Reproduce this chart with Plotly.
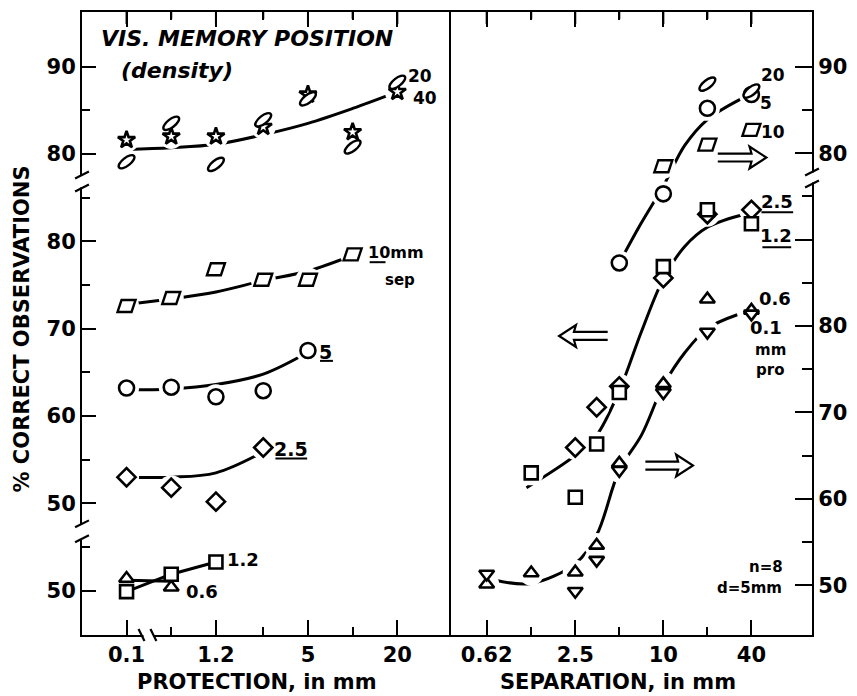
import numpy as np
import plotly.graph_objects as go

# ---------------- data ----------------
# Left panel: x = protection (mm)
prot = [0.1, 0.6, 1.2, 2.5, 5, 10, 20]
prot_tick_labels = ["0.1", "", "1.2", "", "5", "", "20"]

# density group (upper segment of left axis)
dens_sep40 = [81.6, 82.0, 82.0, 83.1, 86.8, 82.5, 87.1]   # stars
dens_sep20 = [79.1, 83.5, 78.8, 83.9, 86.3, 80.8, 88.2]   # ellipses
dens_curve = [80.5, 80.7, 81.1, 82.2, 83.5, 85.2, 87.1]

# position group (middle segment of left axis)
pos10_x = [0.1, 0.6, 1.2, 2.5, 5, 10]
pos10 = [72.6, 73.5, 76.8, 75.6, 75.6, 78.5]
pos10_curve = [72.8, 73.4, 74.2, 75.5, 76.6, 78.4]
pos5_x = [0.1, 0.6, 1.2, 2.5, 5]
pos5 = [63.2, 63.3, 62.2, 62.9, 67.5]
pos5_curve = [63.0, 63.1, 63.6, 64.8, 67.3]
pos25_x = [0.1, 0.6, 1.2, 2.5]
pos25 = [53.0, 51.8, 50.2, 56.4]
pos25_curve = [53.0, 53.0, 53.5, 55.9]
# lower segment of left axis
pos06_x = [0.1, 0.6]
pos06 = [51.4, 50.4]
pos06_curve = [51.2, 51.1]
pos12_x = [0.1, 0.6, 1.2]
pos12 = [49.9, 51.9, 53.3]

# Right panel: x = separation (mm)
sep_ticks = [0.62, 1.25, 2.5, 5, 10, 20, 40]
sep_tick_labels = ["0.62", "", "2.5", "", "10", "", "40"]
# upper group (right axis, upper segment)
pro5_x = [5, 10, 20, 40]
pro5 = [67.3, 75.3, 85.2, 86.8]
pro10_x = [10, 20, 40]
pro10 = [78.5, 81.0, 82.7]
pro20_x = [20, 40]
pro20 = [88.0, 87.2]
upper_curve_x = [5, 7, 10, 14, 20, 34]
upper_curve = [67.3, 71.8, 76.2, 80.9, 83.9, 86.3]
# middle group (read on the left axis)
pro25_x = [2.5, 3.5, 5, 10, 20, 40]
pro25 = [56.4, 61.0, 63.4, 75.8, 83.1, 83.6]
pro12_x = [1.25, 2.5, 3.5, 5, 10, 20, 40]
pro12 = [53.5, 50.7, 56.8, 62.7, 77.1, 83.6, 82.0]
middle_curve_x = [1.16, 2.5, 3.5, 5, 7.1, 10, 14, 20, 38]
middle_curve = [51.8, 55.5, 57.8, 62.9, 69.7, 75.7, 79.4, 81.6, 83.2]
# lower group (right axis, lower segment)
pro06_x = [0.62, 1.25, 2.5, 3.5, 5, 10, 20, 40]
pro06 = [50.1, 51.4, 51.5, 54.6, 64.1, 73.3, 83.1, 81.8]
pro01_x = [0.62, 2.5, 3.5, 5, 10, 20, 40]
pro01 = [51.3, 49.3, 52.9, 63.3, 72.3, 79.3, 81.4]
lower_curve_x = [0.70, 1.25, 2.5, 3.5, 5, 7.1, 10, 14, 20, 32]
lower_curve = [50.6, 50.2, 52.5, 55.8, 63.3, 67.4, 73.1, 76.9, 79.7, 81.3]

# axis segments (broken axes): offset added to reach the continuous drawing scale
LEFT_OFF = {"upper": 10, "middle": 0, "lower": -10}
LEFT_TICKS = {"upper": [80, 85, 90], "middle": [50, 55, 60, 65, 70, 75, 80, 85], "lower": [50, 55]}
RIGHT_OFF = {"upper": 20, "lower": 0}
RIGHT_TICKS = {"upper": [80, 85, 90], "lower": [50, 55, 60, 65, 70, 75, 80, 85, 90, 95]}
RIGHT_UNLABELLED_MAJOR = {("lower", 90)}
PROT_BREAK = 0.3      # protections below this are drawn behind the x-axis break
PROT_BREAK_FACTOR = 3


def lv(vals, seg):
    return [v + LEFT_OFF[seg] for v in vals]


def rv(vals, seg):
    return [v + RIGHT_OFF[seg] for v in vals]


def ppos(xs):
    return [x * PROT_BREAK_FACTOR if x < PROT_BREAK else x for x in xs]


# ---------------- geometry (pixels) ----------------
W, H = 857, 696
L, R, T, B = 82, 818, 10, 635
XDIV = 452


def px(x):
    return (x - L) / (R - L)


def py(y):
    return (B - y) / (B - T)


FONT = "DejaVu Sans"
fig = go.Figure()

curves, halos, marks = [], [], []


def curve(x, y, xa, ya, shape="spline"):
    curves.append(go.Scatter(x=x, y=y, mode="lines", xaxis=xa, yaxis=ya,
                             line=dict(color="black", width=3, shape=shape, smoothing=1.0),
                             hoverinfo="skip", showlegend=False))


def points(x, y, xa, ya, symbol=None, size=14):
    halos.append(go.Scatter(x=x, y=y, mode="markers", xaxis=xa, yaxis=ya,
                            marker=dict(symbol="circle", size=25, color="white", line=dict(width=0)),
                            hoverinfo="skip", showlegend=False))
    if symbol:
        marks.append(go.Scatter(x=x, y=y, mode="markers", xaxis=xa, yaxis=ya,
                                marker=dict(symbol=symbol, size=size, color="white",
                                            line=dict(color="black", width=2.6)),
                                hoverinfo="skip", showlegend=False))


# left panel
curve(ppos(prot), lv(dens_curve, "upper"), "x", "y")
points(ppos(prot), lv(dens_sep40, "upper"), "x", "y", "star", 13)
points(ppos(prot), lv(dens_sep20, "upper"), "x", "y")
curve(ppos(pos10_x), lv(pos10_curve, "middle"), "x", "y")
points(ppos(pos10_x), lv(pos10, "middle"), "x", "y")
curve(ppos(pos5_x), lv(pos5_curve, "middle"), "x", "y")
points(ppos(pos5_x), lv(pos5, "middle"), "x", "y", "circle", 15)
curve(ppos(pos25_x), lv(pos25_curve, "middle"), "x", "y")
points(ppos(pos25_x), lv(pos25, "middle"), "x", "y", "diamond", 14)
curve(ppos(pos06_x), lv(pos06_curve, "lower"), "x", "y", "linear")
curve(ppos(pos12_x), lv(pos12, "lower"), "x", "y", "linear")
marks.append(go.Scatter(x=ppos(pos06_x), y=lv(pos06, "lower"), mode="markers", xaxis="x", yaxis="y",
                        marker=dict(symbol="triangle-up", size=13, color="white", line=dict(color="black", width=2.6)),
                        hoverinfo="skip", showlegend=False))
marks.append(go.Scatter(x=ppos(pos12_x), y=lv(pos12, "lower"), mode="markers", xaxis="x", yaxis="y",
                        marker=dict(symbol="square", size=13, color="white", line=dict(color="black", width=2.6)),
                        hoverinfo="skip", showlegend=False))

# right panel
curve(upper_curve_x, rv(upper_curve, "upper"), "x2", "y2")
points(pro5_x, rv(pro5, "upper"), "x2", "y2", "circle", 15)
points(pro10_x, rv(pro10, "upper"), "x2", "y2")
points(pro20_x, rv(pro20, "upper"), "x2", "y2")
curve(lower_curve_x, rv(lower_curve, "lower"), "x2", "y2")
points(pro06_x, rv(pro06, "lower"), "x2", "y2", "triangle-up", 13)
points(pro01_x, rv(pro01, "lower"), "x2", "y2", "triangle-down", 13)
curve(middle_curve_x, lv(middle_curve, "middle"), "x2", "y3")
points(pro25_x, lv(pro25, "middle"), "x2", "y3", "diamond", 14)
points(pro12_x, lv(pro12, "middle"), "x2", "y3", "square", 13)

for tr in curves + halos + marks:
    fig.add_trace(tr)


# custom symbols drawn as pixel-sized shapes anchored at data points
def ellipse_path(a=9.5, b=4.0, ang=38):
    k = 0.5523
    ctrl = [(1, 0), (1, k), (k, 1), (0, 1), (-k, 1), (-1, k), (-1, 0), (-1, -k), (-k, -1), (0, -1),
            (k, -1), (1, -k), (1, 0)]
    t = np.radians(ang)
    pts = [(a * x * np.cos(t) - b * y * np.sin(t), a * x * np.sin(t) + b * y * np.cos(t)) for x, y in ctrl]
    s = f"M{pts[0][0]:.2f},{pts[0][1]:.2f}"
    for i in range(1, 13, 3):
        s += " C" + " ".join(f"{p[0]:.2f},{p[1]:.2f}" for p in pts[i:i + 3])
    return s + " Z"


PARA = "M-9,-6 L5,-6 L9,6 L-5,6 Z"
ELL = ellipse_path()


def sym_shapes(xs, ys, xref, yref, path):
    for x, y in zip(xs, ys):
        fig.add_shape(type="path", xref=xref, yref=yref, xsizemode="pixel", ysizemode="pixel",
                      xanchor=x, yanchor=y, path=path, fillcolor="white",
                      line=dict(color="black", width=2.4), layer="above")


sym_shapes(ppos(prot), lv(dens_sep20, "upper"), "x", "y", ELL)
sym_shapes(ppos(pos10_x), lv(pos10, "middle"), "x", "y", PARA)
sym_shapes(pro20_x, rv(pro20, "upper"), "x2", "y2", ELL)
sym_shapes(pro10_x, rv(pro10, "upper"), "x2", "y2", PARA)

# ---------------- axes ----------------
def left_ticks():
    major, text, minor = [], [], []
    for seg, vals in LEFT_TICKS.items():
        for v in vals:
            if v % 10 == 0:
                major.append(v + LEFT_OFF[seg]); text.append(str(v))
            else:
                minor.append(v + LEFT_OFF[seg])
    return major, text, minor


def right_ticks():
    major, text, minor = [], [], []
    for seg, vals in RIGHT_TICKS.items():
        for v in vals:
            if (seg, v) in RIGHT_UNLABELLED_MAJOR:
                major.append(v + RIGHT_OFF[seg]); text.append("")
            elif v % 10 == 0:
                major.append(v + RIGHT_OFF[seg]); text.append(str(v))
            else:
                minor.append(v + RIGHT_OFF[seg])
    return major, text, minor


tickfont = dict(family=FONT, size=21, color="black", weight="bold")
lmaj, ltxt, lmin = left_ticks()
rmaj, rtxt, rmin = right_ticks()
pmaj = [p for p, t in zip(ppos(prot), prot_tick_labels) if t]
pmin = [p for p, t in zip(ppos(prot), prot_tick_labels) if not t]
smaj = [s for s, t in zip(sep_ticks, sep_tick_labels) if t]
smin = [s for s, t in zip(sep_ticks, sep_tick_labels) if not t]

common_x = dict(type="log", showline=True, linecolor="black", linewidth=2, mirror="ticks",
                ticks="inside", ticklen=15, tickwidth=2, tickcolor="black", showgrid=False,
                zeroline=False, tickfont=tickfont, tickmode="array", ticklabelstandoff=0)
fig.update_layout(
    xaxis=dict(common_x, domain=[0, px(XDIV)], range=[-0.823, 1.649], anchor="y",
               tickvals=pmaj, ticktext=[t for t in prot_tick_labels if t],
               minor=dict(tickmode="array", tickvals=pmin, ticks="inside", ticklen=8,
                          tickwidth=2, tickcolor="black", showgrid=False)),
    xaxis2=dict(common_x, domain=[px(XDIV), 1], range=[-0.4652, 2.0161], anchor="y2",
                tickvals=smaj, ticktext=[t for t in sep_tick_labels if t],
                minor=dict(tickmode="array", tickvals=smin, ticks="inside", ticklen=8,
                           tickwidth=2, tickcolor="black", showgrid=False)),
    yaxis=dict(domain=[0, 1], range=[34.94, 106.24], anchor="x", showline=True, linecolor="black",
               linewidth=2, mirror=True, ticks="inside", ticklen=14, tickwidth=2, tickcolor="black",
               showgrid=False, zeroline=False, tickfont=tickfont, tickmode="array",
               tickvals=lmaj, ticktext=ltxt,
               minor=dict(tickmode="array", tickvals=lmin, ticks="inside", ticklen=8,
                          tickwidth=2, tickcolor="black", showgrid=False)),
    yaxis2=dict(domain=[0, 1], range=[44.23, 116.35], anchor="x2", side="right", showline=True,
                linecolor="black", linewidth=2, ticks="inside", ticklen=17, tickwidth=2,
                tickcolor="black", showgrid=False, zeroline=False, tickfont=tickfont,
                tickmode="array", tickvals=rmaj, ticktext=rtxt,
                minor=dict(tickmode="array", tickvals=rmin, ticks="inside", ticklen=10,
                           tickwidth=2, tickcolor="black", showgrid=False)),
    yaxis3=dict(domain=[0, 1], range=[34.94, 106.24], anchor="x2", overlaying="y2", visible=False),
    width=W, height=H, autosize=False,
    margin=dict(l=L, r=W - R, t=T, b=H - B, pad=0),
    paper_bgcolor="white", plot_bgcolor="rgba(0,0,0,0)",
    showlegend=False,
)

# tick marks along the top edge of both panels (same positions as the bottom ticks)
for xref, vals, labels in (("x", ppos(prot), prot_tick_labels), ("x2", sep_ticks, sep_tick_labels)):
    for v, t in zip(vals, labels):
        ln = 12 if t else 7
        fig.add_shape(type="line", xref=xref, yref="paper", x0=v, x1=v, y0=1, y1=1 - ln / (B - T),
                      line=dict(color="black", width=2), layer="above")


# ---------------- decorations: breaks, arrows, underlines ----------------
def line_px(x0, y0, x1, y1, w=2.2, color="black"):
    fig.add_shape(type="line", xref="paper", yref="paper", x0=px(x0), y0=py(y0), x1=px(x1), y1=py(y1),
                  line=dict(color=color, width=w), layer="above")


def rect_px(x0, y0, x1, y1):
    fig.add_shape(type="rect", xref="paper", yref="paper", x0=px(x0), y0=py(y0), x1=px(x1), y1=py(y1),
                  fillcolor="white", line=dict(width=0), layer="above")


# axis breaks
rect_px(77, 174, 87, 186)
line_px(75, 177, 89, 170)
line_px(75, 190, 89, 183)
rect_px(77, 524, 87, 539)
line_px(75, 527, 89, 520)
line_px(75, 542, 89, 535)
rect_px(813, 171, 823, 181)
line_px(811, 174, 825, 167)
line_px(811, 186, 825, 179)
rect_px(144, 631, 154, 639)
line_px(139, 629, 145, 641)
line_px(151, 629, 157, 641)


def arrow(x0, x1, yc):
    d = 1 if x1 > x0 else -1
    hx = x1 - d * 15
    pts = [(x0, yc - 4), (hx, yc - 4), (hx - d * 2, yc - 11), (x1, yc), (hx - d * 2, yc + 11),
           (hx, yc + 4), (x0, yc + 4)]
    path = "M" + " L".join(f"{px(a):.5f},{py(b):.5f}" for a, b in pts)
    fig.add_shape(type="path", xref="paper", yref="paper", path=path,
                  line=dict(color="black", width=2.2), layer="above")


arrow(723, 772, 156)
arrow(612, 563, 335)
arrow(650, 698, 465)

# underlines of series labels
line_px(372, 261, 388, 261, 2)
line_px(322, 360, 335, 360, 2)
line_px(277, 458, 309, 458, 2)
line_px(767, 211, 799, 211, 2)
line_px(768, 246, 797, 246, 2)


def text_px(t, x, y, size, angle=0, bold=True, italic=False):
    fig.add_annotation(text=t, x=px(x), y=py(y), xref="paper", yref="paper", showarrow=False,
                       textangle=angle, xanchor="center", yanchor="middle",
                       font=dict(family=FONT, size=size, color="black",
                                 weight="bold" if bold else "normal",
                                 style="italic" if italic else "normal"))


text_px("VIS. MEMORY POSITION", 248, 37, 22, italic=True)
text_px("(density)", 178, 69, 22, italic=True)
text_px("20", 423, 74, 17)
text_px("40", 428, 96, 17)
text_px("10mm", 399, 251, 16)
text_px("sep", 403, 279, 15)
text_px("5", 328, 351, 19)
text_px("2.5", 293, 448, 19)
text_px("1.2", 244, 559, 18)
text_px("0.6", 203, 591, 18)
text_px("20", 779, 73, 17)
text_px("5", 772, 101, 17)
text_px("10", 779, 130, 17)
text_px("2.5", 783, 200, 18)
text_px("1.2", 782, 234, 18)
text_px("0.6", 781, 297, 18)
text_px("0.1", 772, 327, 18)
text_px("mm", 776, 349, 15)
text_px("pro", 776, 369, 15)
text_px("n=8", 772, 567, 15)
text_px("d=5mm", 755, 588, 15)
text_px("% CORRECT OBSERVATIONS", 21, 328, 21, angle=-90)
text_px("PROTECTION, in mm", 258, 682, 21)
text_px("SEPARATION, in mm", 622, 682, 21)

fig.write_html("out.html")
